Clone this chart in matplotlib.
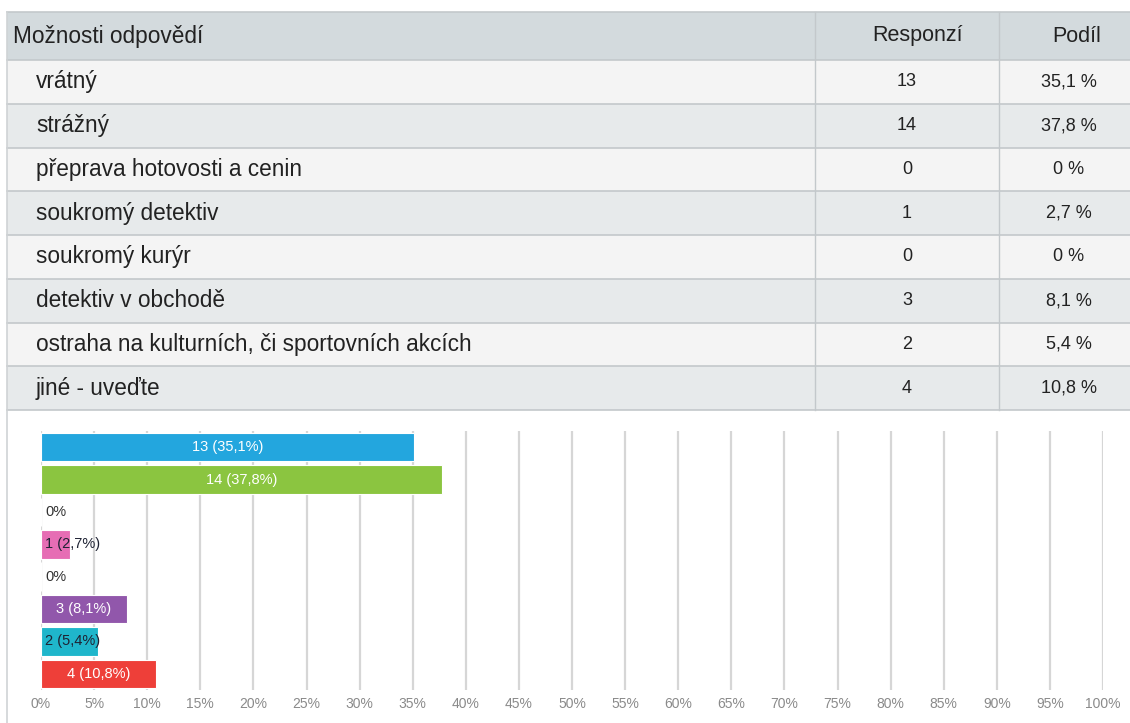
import matplotlib
matplotlib.use("Agg")
import matplotlib.pyplot as plt
from matplotlib import font_manager
from matplotlib.patches import Rectangle
import numpy as np

# --- data -------------------------------------------------------------
categories = [
    "vrátný",
    "strážný",
    "přeprava hotovosti a cenin",
    "soukromý detektiv",
    "soukromý kurýr",
    "detektiv v obchodě",
    "ostraha na kulturních, či sportovních akcích",
    "jiné - uveďte",
]
responses = [13, 14, 0, 1, 0, 3, 2, 4]
shares = [35.1, 37.8, 0.0, 2.7, 0.0, 8.1, 5.4, 10.8]
bar_colors = ["#23a6de", "#8bc540", "#e66db4", "#e66db4", "#9e9e9e",
              "#9157ab", "#1fb6cb", "#ee3f39"]
header = ["Možnosti odpovědí", "Responzí", "Podíl"]
x_ticks = list(range(0, 101, 5))


def fmt(v):
    s = f"{v:.1f}".rstrip("0").rstrip(".")
    return s.replace(".", ",")


def pick_font(name, fallback):
    names = {f.name for f in font_manager.fontManager.ttflist}
    return name if name in names else fallback


SANS = "Liberation Sans"
NARROW = pick_font("Liberation Sans Narrow", SANS)
num_size = 14 if NARROW != SANS else 13

W, H = 1130, 723
fig = plt.figure(figsize=(W / 100, H / 100), dpi=100)
fig.patch.set_facecolor("white")

# --- table ------------------------------------------------------------
bg = fig.add_axes([0, 0, 1, 1])
bg.set_xlim(0, W)
bg.set_ylim(H, 0)
bg.axis("off")

left, right = 7, W
top, head_h = 12, 48
row_h = 43.75
col1, col2 = 815, 999
line_c = "#c3c8cb"

bg.add_patch(Rectangle((left, top), right - left, head_h, facecolor="#d3dadd",
                       edgecolor="none"))
for i in range(len(categories)):
    y0 = top + head_h + i * row_h
    fc = "#f4f4f4" if i % 2 == 0 else "#e7eaeb"
    bg.add_patch(Rectangle((left, y0), right - left, row_h, facecolor=fc,
                           edgecolor="none"))
table_bottom = top + head_h + len(categories) * row_h
for k in range(len(categories) + 2):
    y = top if k == 0 else top + head_h + (k - 1) * row_h
    bg.plot([left, right], [y, y], color=line_c, lw=1.2)
for xc in (col1, col2):
    bg.plot([xc, xc], [top, table_bottom], color=line_c, lw=1.0)
# frame line running down the left side of the whole block
bg.plot([left, left], [top, H], color="#cfd3d5", lw=1.2)

txt_c = "#222222"
hy = top + head_h / 2
bg.text(13, hy, header[0], fontsize=16.3, family=SANS, color=txt_c,
        va="center", ha="left")
bg.text(918, hy, header[1], fontsize=15.5, family=SANS, color=txt_c,
        va="center", ha="center")
bg.text(1077, hy, header[2], fontsize=15.5, family=SANS, color=txt_c,
        va="center", ha="center")

for i, (cat, r, s) in enumerate(zip(categories, responses, shares)):
    yc = top + head_h + (i + 0.5) * row_h
    bg.text(36, yc, cat, fontsize=16.3, family=SANS, color=txt_c,
            va="center", ha="left")
    bg.text(907, yc, str(r), fontsize=num_size, family=NARROW, color=txt_c,
            va="center", ha="center")
    bg.text(1069, yc, f"{fmt(s)} %", fontsize=num_size, family=NARROW,
            color=txt_c, va="center", ha="center")

# --- bar chart --------------------------------------------------------
px0, px1 = 41, 1103
py0, py1 = 431, 690
ax = fig.add_axes([px0 / W, 1 - py1 / H, (px1 - px0) / W, (py1 - py0) / H])
ax.set_facecolor("none")
ypos = np.arange(len(categories))
ax.set_xlim(0, 100)
ax.set_ylim(len(categories) - 0.5, -0.5)

for x in x_ticks:
    ax.axvline(x, color="#d6d6d6", lw=1.6, zorder=0)

ax.barh(ypos, shares, height=0.88, color=bar_colors, edgecolor="white",
        linewidth=0.8, zorder=2)

for i, (r, s, c) in enumerate(zip(responses, shares, bar_colors)):
    if r == 0:
        ax.text(0.4, i, "0%", fontsize=10.5, family=SANS, color="#333333",
                va="center", ha="left", zorder=3)
        continue
    label = f"{r} ({fmt(s)}%)"
    if s >= 8:
        ax.text(s / 2, i, label, fontsize=10.5, family=SANS, color="white",
                va="center", ha="center", zorder=3)
    else:
        ax.text(0.4, i, label, fontsize=10.5, family=SANS, color="#1e2233",
                va="center", ha="left", zorder=3)

ax.set_xticks(x_ticks)
ax.set_xticklabels([f"{x}%" for x in x_ticks], fontsize=10, family=NARROW,
                   color="#8a8a8a")
ax.tick_params(axis="x", length=0, pad=5)
ax.set_yticks([])
for sp in ax.spines.values():
    sp.set_visible(False)

fig.savefig("out.png", dpi=100, facecolor="white")
